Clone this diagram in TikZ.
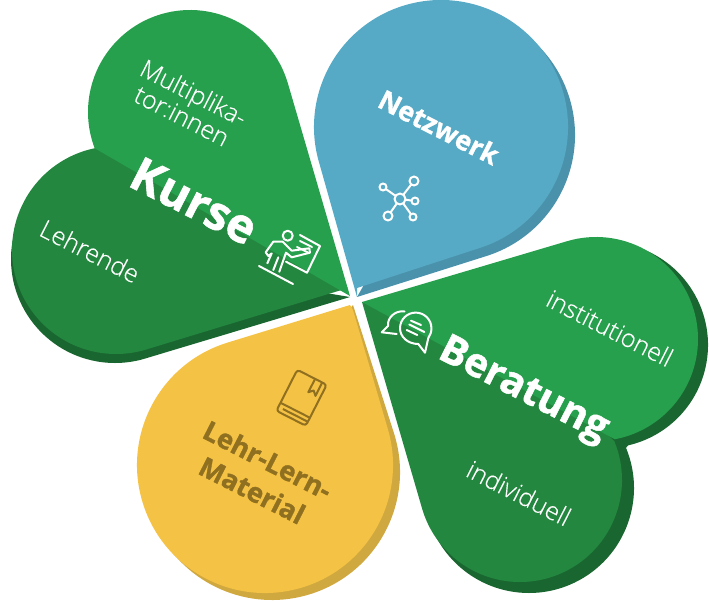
\documentclass[tikz,border=0pt]{standalone}
\usepackage{fontspec}
\setmainfont[BoldFeatures={FakeBold=1.2}]{Open Sans}
\newfontfamily\lightfont[FakeBold=.35]{Open Sans Light}
\definecolor{grlight}{HTML}{27A04E}
\definecolor{grdark}{HTML}{23873F}
\definecolor{grshade}{HTML}{1A6630}
\definecolor{bluepetal}{HTML}{57AAC5}
\definecolor{blueshade}{HTML}{4A92AB}
\definecolor{yelpetal}{HTML}{F4C244}
\definecolor{yelshade}{HTML}{CFA83F}
\definecolor{yeltext}{HTML}{8F6F20}
% arc of a circle: centre x, centre y, radius, start and end angle
\newcommand{\lobe}[5]{-- ([shift={(#4:#3pt)}]#1,#2) arc[start angle=#4,end angle=#5,radius=#3pt]}
\begin{document}
\begin{tikzpicture}[x=1pt,y=-1pt]
	\tikzstyle{label}=[rotate=-27,inner sep=0pt,align=center,text=white]
	\tikzstyle{big}=[label,font=\fontsize{47}{52}\bfseries\selectfont]
	\tikzstyle{mid}=[label,font=\fontsize{40}{44}\bfseries\selectfont]
	\tikzstyle{head}=[label,font=\fontsize{27}{34}\bfseries\selectfont]
	\tikzstyle{small}=[label,font=\fontsize{25}{26}\lightfont\selectfont]
	\tikzstyle{icon}=[draw=white,line width=2pt,line join=round,line cap=round]
	\tikzstyle{bookline}=[draw=yeltext,line width=2pt,line join=round]
	\useasboundingbox (0,0) rectangle (709,600);

	% Netzwerk
	\fill[blueshade] (357,297) \lobe{448}{135}{127}{-72.4}{60} -- cycle;
	\fill[bluepetal] (357,297) \lobe{441}{127}{127}{196.8}{-72} -- (357,288) -- cycle;

	% Beratung
	\fill[grshade] (530,400) \lobe{605}{345}{103}{71}{-77} \lobe{529}{488}{105}{22.5}{-160} -- cycle;
	\fill[grdark] (362,302) -- (500,345) -- (610,437) \lobe{520}{480}{102}{22.3}{-163.5} -- cycle;
	\fill[grlight] (362,302) \lobe{596}{339}{102}{106.5}{-79.4} -- cycle;

	% Lehr-Lern-Material
	\fill[yelshade] (353,305) \lobe{272}{472}{128}{17.7}{-150} -- cycle;
	\fill[yelpetal] (350,305) \lobe{265}{465}{128}{107.1}{377} -- (353,310) -- cycle;

	% Kurse
	\fill[grshade] (350,297) \lobe{115}{259}{104}{170}{286.7} -- cycle;
	\fill[grdark] (348,288) -- (200,180) -- (100,145) \lobe{116}{250}{104}{101.6}{287} -- cycle;
	\fill[grlight] (350,296) \lobe{190}{112}{102}{16.3}{200.8} -- cycle;

	\node[big] (kurse) at (194,201) {Kurse};
	\node[small] (multi) at (188,104) {Multiplika-\\tor:innen};
	\node[small] (lehrende) at (90,251) {Lehrende};
	\node[head] (netzwerk) at (439,127) {Netzwerk};
	\node[mid] (beratung) at (523,391) {Beratung};
	\node[small] (instit) at (610,328) {institutionell};
	\node[small] (indiv) at (519,493) {individuell};
	\node[head,text=yeltext] (material) at (260,475) {Lehr-Lern-\\Material};

	% Kurse icon
	\draw[icon] (287.7,235.7) circle[radius=5];
	\draw[icon] (259,266) -- (293,284);
	\draw[icon] (300,235) -- (320,246) -- (307,272.7) -- (286,261.7);
	\draw[icon] (300,241) -- (312,247) (297,247) -- (309,253);
	\draw[icon] (267.3,263.3) -- (271.7,253.3) -- (268.3,256) -- (265.7,252.3) -- (273.3,241.7) -- (282.7,241.7) -- (291.7,250.7) -- (309.3,248.3) -- (310,252.7) -- (291.7,257.3) -- (286,252.7) -- (279.3,271.7);
	\draw[icon] (273.3,270) -- (278.3,257.3);

	% Netzwerk icon
	\draw[icon] (400,199) -- (414,181) (400,199) -- (383,187) (400,199) -- (415,201) (400,199) -- (388,216) (400,199) -- (413,217);
	\foreach \x/\y/\r in {400/199/5.5, 414/181/4.5, 383/187/3.5, 415/201/3.5, 388/216/4.5, 413/217/3.5}
		\draw[icon,fill=bluepetal] (\x,\y) circle[radius=\r];

	% Beratung icon
	\draw[icon] (404.5,311.5) .. controls (395,310) and (387,318) .. (388,326) -- (381.7,332.3) -- (396.7,334);
	\draw[icon] (428.3,338) .. controls (430.5,335) and (431.4,332) .. (431.4,328) .. controls (431.4,319.5) and (424.2,312.6) .. (415.7,312.6) .. controls (407,312.6) and (400,319.5) .. (400,328.3) .. controls (400,337) and (408,344) .. (418.3,344) -- (425,352.7) -- cycle;
	\draw[icon] (411,320.7) -- (421,325) (409.3,324.5) -- (424.3,332) (406.7,330) -- (417.3,335);

	% book
	\begin{scope}[shift={(302,398)},rotate=-27]
		\draw[bookline,rounded corners=3pt] (-17,15) -- (-17,-23) -- (16,-23) -- (16,23) -- (-17,23) -- cycle;
		\draw[bookline] (-17,14) -- (16,14) (-12,18.5) -- (16,18.5);
		\draw[bookline] (3,-23) -- (3,-8) -- (7,-12) -- (11,-8) -- (11,-23);
	\end{scope}
\end{tikzpicture}
\end{document}
